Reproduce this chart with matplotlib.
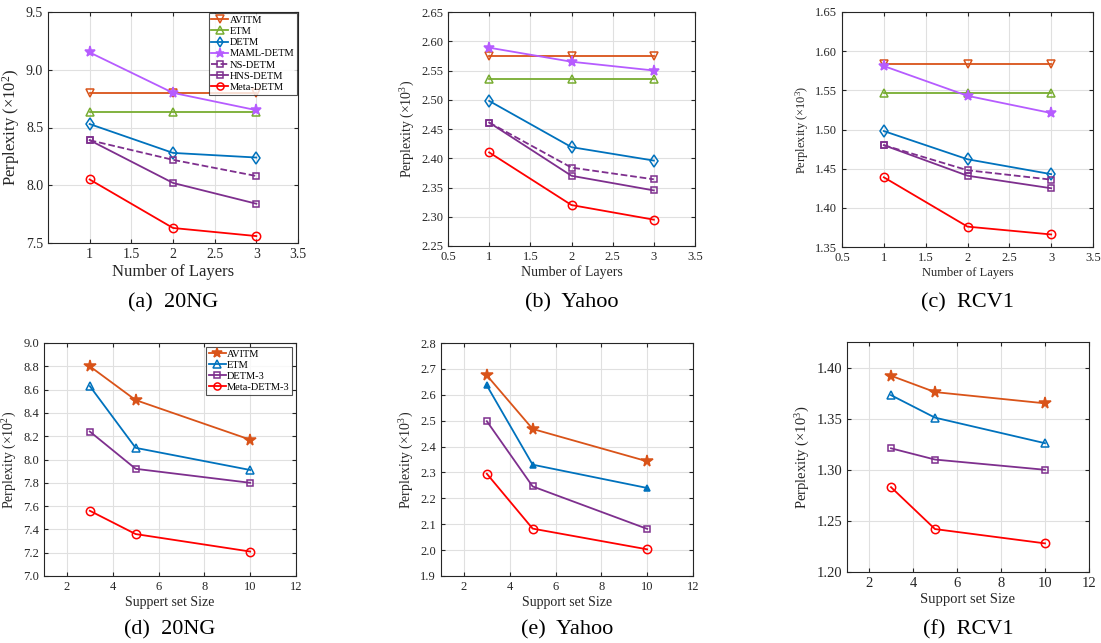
import numpy as np
import matplotlib
matplotlib.use("Agg")
import matplotlib.pyplot as plt
from matplotlib.ticker import FormatStrFormatter

plt.rcParams['font.family'] = ['Liberation Serif', 'DejaVu Serif']
plt.rcParams['mathtext.fontset'] = 'custom'
plt.rcParams['mathtext.rm'] = 'Liberation Serif'
plt.rcParams['mathtext.it'] = 'Liberation Serif:italic'

# ---- data: perplexity vs number of layers (top row) ----
layers = [1, 2, 3]
top_names = ["AVITM", "ETM", "DETM", "MAML-DETM", "NS-DETM", "HNS-DETM", "Meta-DETM"]
ng_layers = {
    "AVITM": [8.80, 8.80, 8.80],
    "ETM": [8.63, 8.63, 8.63],
    "DETM": [8.53, 8.28, 8.24],
    "MAML-DETM": [9.15, 8.80, 8.65],
    "NS-DETM": [8.39, 8.22, 8.08],
    "HNS-DETM": [8.39, 8.02, 7.84],
    "Meta-DETM": [8.05, 7.63, 7.56],
}
yahoo_layers = {
    "AVITM": [2.574, 2.574, 2.574],
    "ETM": [2.535, 2.535, 2.535],
    "DETM": [2.498, 2.419, 2.396],
    "MAML-DETM": [2.589, 2.565, 2.550],
    "NS-DETM": [2.461, 2.384, 2.364],
    "HNS-DETM": [2.461, 2.370, 2.345],
    "Meta-DETM": [2.410, 2.320, 2.295],
}
rcv_layers = {
    "AVITM": [1.584, 1.584, 1.584],
    "ETM": [1.546, 1.546, 1.546],
    "DETM": [1.498, 1.462, 1.443],
    "MAML-DETM": [1.581, 1.543, 1.521],
    "NS-DETM": [1.480, 1.448, 1.436],
    "HNS-DETM": [1.480, 1.441, 1.425],
    "Meta-DETM": [1.439, 1.376, 1.366],
}

# ---- data: perplexity vs support set size (bottom row) ----
support = [3, 5, 10]
bot_names = ["AVITM", "ETM", "DETM-3", "Meta-DETM-3"]
ng_support = {
    "AVITM": [8.80, 8.51, 8.17],
    "ETM": [8.63, 8.10, 7.91],
    "DETM-3": [8.24, 7.92, 7.80],
    "Meta-DETM-3": [7.56, 7.36, 7.21],
}
yahoo_support = {
    "AVITM": [2.675, 2.468, 2.343],
    "ETM": [2.636, 2.330, 2.240],
    "DETM-3": [2.498, 2.246, 2.082],
    "Meta-DETM-3": [2.295, 2.083, 2.003],
}
rcv_support = {
    "AVITM": [1.392, 1.376, 1.365],
    "ETM": [1.373, 1.351, 1.326],
    "DETM-3": [1.321, 1.310, 1.300],
    "Meta-DETM-3": [1.283, 1.242, 1.228],
}

# MATLAB-ish styles
top_style = {
    "AVITM": dict(color="#D95319", marker="v", ls="-"),
    "ETM": dict(color="#77AC30", marker="^", ls="-"),
    "DETM": dict(color="#0072BD", marker="d", ls="-"),
    "MAML-DETM": dict(color="#B65CFF", marker="*", ls="-", mfc="#B65CFF", ms=8),
    "NS-DETM": dict(color="#7E2F8E", marker="s", ls="--", ms=5),
    "HNS-DETM": dict(color="#7E2F8E", marker="s", ls="-", ms=5),
    "Meta-DETM": dict(color="#FF0000", marker="o", ls="-"),
}
bot_style = {
    "AVITM": dict(color="#D95319", marker="*", ls="-", mfc="#D95319", ms=8.5),
    "ETM": dict(color="#0072BD", marker="^", ls="-"),
    "DETM-3": dict(color="#7E2F8E", marker="s", ls="-", ms=5),
    "Meta-DETM-3": dict(color="#FF0000", marker="o", ls="-"),
}

W, H = 1101, 643
fig = plt.figure(figsize=(W / 100, H / 100), dpi=100)


def box(l, t, r, b):
    return [l / W, 1 - b / H, (r - l) / W, (b - t) / H]


def style_ax(ax, tick_fs):
    ax.grid(True, color="#e0e0e0", lw=0.8)
    ax.set_axisbelow(True)
    ax.tick_params(direction="in", top=True, right=True, labelsize=tick_fs,
                   colors="#262626", length=3)
    for s in ax.spines.values():
        s.set_color("#262626")
        s.set_linewidth(0.8)


def draw(ax, x, data, names, styles, tick_fs, override=None):
    for n in names:
        st = dict(styles[n])
        if override and n in override:
            st.update(override[n])
        ms = st.pop("ms", 6)
        mfc = st.pop("mfc", "none")
        ax.plot(x, data[n], label=n, lw=1.3, ms=ms, mfc=mfc, mew=1.1, **st)
    style_ax(ax, tick_fs)


def add_legend(ax, pad):
    leg = ax.legend(loc="upper right", fontsize=7.5, frameon=True, fancybox=False,
                    borderpad=0.25, labelspacing=0.18, handlelength=1.6,
                    handletextpad=0.15, borderaxespad=pad, markerscale=0.85)
    leg.get_frame().set_edgecolor("#262626")
    leg.get_frame().set_linewidth(0.8)


panels_top = [
    (box(48, 12, 298, 243), ng_layers, (7.5, 9.5), np.arange(7.5, 9.51, 0.5), "%.1f", r"Perplexity ($\times$10$^2$)", 12, 10, [1, 1.5, 2, 2.5, 3, 3.5], "(a)  20NG"),
    (box(448, 12, 695, 246), yahoo_layers, (2.25, 2.65), np.arange(2.25, 2.651, 0.05), "%.2f", r"Perplexity ($\times$10$^3$)", 10, 9, [0.5, 1, 1.5, 2, 2.5, 3, 3.5], "(b)  Yahoo"),
    (box(842, 12, 1093, 247), rcv_layers, (1.35, 1.65), np.arange(1.35, 1.651, 0.05), "%.2f", r"Perplexity ($\times$10$^3$)", 9, 9, [0.5, 1, 1.5, 2, 2.5, 3, 3.5], "(c)  RCV1"),
]
for i, (pos, data, ylim, yt, fmt, ylab, lab_fs, tick_fs, xt, cap) in enumerate(panels_top):
    ax = fig.add_axes(pos)
    draw(ax, layers, data, top_names, top_style, tick_fs)
    ax.set_xlim(0.5, 3.5)
    ax.set_ylim(*ylim)
    ax.set_xticks(xt)
    ax.set_xticklabels(["%g" % v for v in xt])
    ax.set_yticks(yt)
    ax.yaxis.set_major_formatter(FormatStrFormatter(fmt))
    ax.set_xlabel("Number of Layers", fontsize=lab_fs, color="#262626", labelpad=2)
    ax.set_ylabel(ylab, fontsize=lab_fs, color="#262626", labelpad=3)
    if i == 0:
        add_legend(ax, 0.1)
    cx = pos[0] + pos[2] / 2
    fig.text(cx, 1 - 303 / H, cap, ha="center", va="center", fontsize=16)

panels_bot = [
    (box(44, 343, 296, 576), ng_support, (7.0, 9.0), np.arange(7.0, 9.01, 0.2), "%.1f", r"Perplexity ($\times$10$^2$)", "Suppert set Size", "(d)  20NG", None),
    (box(441, 343, 693, 576), yahoo_support, (1.9, 2.8), np.arange(1.9, 2.81, 0.1), "%.1f", r"Perplexity ($\times$10$^3$)", "Support set Size", "(e)  Yahoo",
     {"ETM": dict(mfc="#0072BD", ms=4.5)}),
    (box(847, 342, 1089, 572), rcv_support, (1.2, 1.425), np.arange(1.2, 1.401, 0.05), "%.2f", r"Perplexity ($\times$10$^3$)", "Support set Size", "(f)  RCV1", None),
]
for i, (pos, data, ylim, yt, fmt, ylab, xlab, cap, ov) in enumerate(panels_bot):
    ax = fig.add_axes(pos)
    tick_fs = 9 if i < 2 else 10.5
    lab_fs = 10 if i < 2 else 10.5
    draw(ax, support, data, bot_names, bot_style, tick_fs, ov)
    ax.set_xlim(1, 12)
    ax.set_ylim(*ylim)
    ax.set_xticks([2, 4, 6, 8, 10, 12])
    ax.set_yticks(yt)
    ax.yaxis.set_major_formatter(FormatStrFormatter(fmt))
    ax.set_xlabel(xlab, fontsize=lab_fs, color="#262626", labelpad=2)
    ax.set_ylabel(ylab, fontsize=lab_fs, color="#262626", labelpad=3)
    if i == 0:
        add_legend(ax, 0.35)
    cx = pos[0] + pos[2] / 2
    fig.text(cx, 1 - 630 / H, cap, ha="center", va="center", fontsize=16)

fig.savefig("out.png", dpi=100)
